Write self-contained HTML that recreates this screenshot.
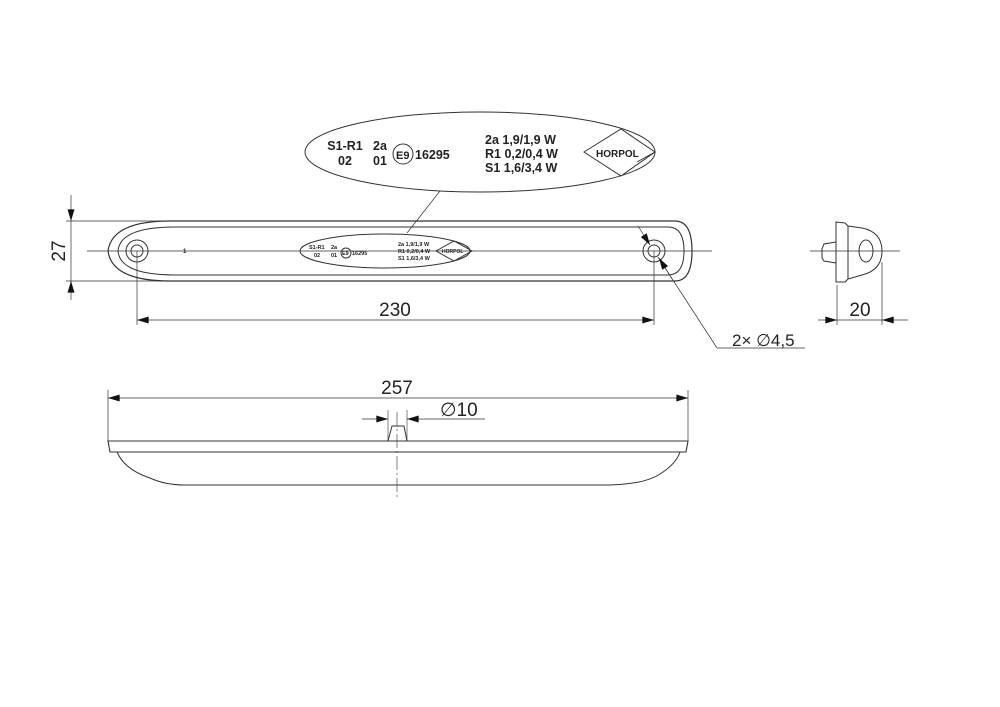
<!DOCTYPE html>
<html><head><meta charset="utf-8"><style>
html,body{margin:0;padding:0;background:#fff;}
svg{display:block;}
text{font-family:"Liberation Sans",sans-serif;fill:#222;}
</style></head><body>
<svg width="1000" height="707" viewBox="0 0 1000 707" xmlns="http://www.w3.org/2000/svg">
<defs>
<marker id="a" viewBox="0 0 10 6" refX="10" refY="3" markerWidth="16" markerHeight="7" markerUnits="userSpaceOnUse" orient="auto"><path d="M0,0L10,3L0,6z" fill="#111"/></marker>
</defs>
<g stroke="#333" stroke-width="1" fill="none">
<path d="M170,221 L675,221 Q692,221 692,251 Q692,281 675,281 L170,281 Q112,281 108,251 Q112,221 170,221 Z" stroke-width="1.2"/>
<path d="M175,227 L668,227 Q684,227 684,251 Q684,275 668,275 L175,275 Q120,275 118,251 Q120,227 175,227 Z"/>
<circle cx="137" cy="251" r="11"/><circle cx="137" cy="251" r="6"/>
<circle cx="654" cy="251" r="11"/><circle cx="654" cy="251" r="6"/>
<line x1="87" y1="251" x2="712" y2="251" stroke-width="0.7"/>
<ellipse cx="385" cy="251" rx="85" ry="17"/>
<ellipse cx="480" cy="152" rx="175" ry="40"/>
<line x1="440" y1="191" x2="407" y2="233" stroke-width="0.7"/>
<line x1="66" y1="221" x2="170" y2="221" stroke-width="0.7"/>
<line x1="66" y1="281" x2="170" y2="281" stroke-width="0.7"/>
<line x1="71" y1="195" x2="71" y2="221" marker-end="url(#a)" stroke-width="0.7"/>
<line x1="71" y1="300" x2="71" y2="281" marker-end="url(#a)" stroke-width="0.7"/>
<line x1="71" y1="221" x2="71" y2="281" stroke-width="0.7"/>
<line x1="137" y1="251" x2="137" y2="325" stroke-width="0.7"/>
<line x1="654" y1="251" x2="654" y2="325" stroke-width="0.7"/>
<line x1="395" y1="320" x2="137" y2="320" marker-end="url(#a)" stroke-width="0.7"/>
<line x1="395" y1="320" x2="654" y2="320" marker-end="url(#a)" stroke-width="0.7"/>
<line x1="638" y1="226" x2="650" y2="245" marker-end="url(#a)" stroke-width="0.7"/>
<polyline points="658,257 717,348 805,348" stroke-width="0.7"/>
<line x1="672" y1="279" x2="659" y2="258" marker-end="url(#a)" stroke-width="0.7"/>
<line x1="810" y1="251" x2="900" y2="251" stroke-width="0.7"/>
<path d="M836,222 L845,223 L848,226 L848,279 L845,282 L836,282 Z"/>
<path d="M836,242 L824,244 L822,249 L822,258 L824,261 L836,263"/>
<path d="M848,226 L862,228 Q882,232 882,251 Q882,270 862,275 L848,279"/>
<ellipse cx="866" cy="251" rx="7" ry="11"/>
<line x1="837" y1="285" x2="837" y2="325" stroke-width="0.7"/>
<line x1="882" y1="262" x2="882" y2="325" stroke-width="0.7"/>
<line x1="818" y1="320" x2="837" y2="320" marker-end="url(#a)" stroke-width="0.7"/>
<line x1="908" y1="320" x2="882" y2="320" marker-end="url(#a)" stroke-width="0.7"/>
<line x1="837" y1="320" x2="882" y2="320" stroke-width="0.7"/>
<line x1="108" y1="390" x2="108" y2="442" stroke-width="0.7"/>
<line x1="688" y1="390" x2="688" y2="442" stroke-width="0.7"/>
<line x1="397" y1="398" x2="108" y2="398" marker-end="url(#a)" stroke-width="0.7"/>
<line x1="397" y1="398" x2="688" y2="398" marker-end="url(#a)" stroke-width="0.7"/>
<path d="M108,441 L688,441 L686,452 L110,452 Z" stroke-width="1.1"/>
<path d="M117,452 Q125,470 150,478 Q165,485 185,485 L610,485 Q645,484 660,474 Q676,464 680,452"/>
<path d="M388,441 L392,426 L404,426 L407,441"/>
<line x1="388" y1="410" x2="388" y2="441" stroke-width="0.6"/>
<line x1="407" y1="410" x2="407" y2="441" stroke-width="0.6"/>
<line x1="362" y1="419" x2="388" y2="419" marker-end="url(#a)" stroke-width="0.7"/>
<line x1="430" y1="419" x2="407" y2="419" marker-end="url(#a)" stroke-width="0.7"/>
<line x1="430" y1="419" x2="485" y2="419" stroke-width="0.7"/>
<line x1="397" y1="412" x2="397" y2="500" stroke-width="0.6" stroke-dasharray="14,3,2,3"/>
<circle cx="403" cy="154" r="10"/>
<polygon points="584,152 621,129 655,152 621,176"/>
<line x1="637" y1="162" x2="655" y2="152"/>
<circle cx="346" cy="253" r="5"/>
<polygon points="436,251 454,241 472,251 454,261"/>
</g>
<g font-size="19">
<text x="60" y="251" text-anchor="middle" transform="rotate(-90 60 251)" dominant-baseline="middle">27</text>
<text x="395" y="316" text-anchor="middle">230</text>
<text x="860" y="316" text-anchor="middle">20</text>
<text x="397" y="394" text-anchor="middle">257</text>
<text x="440" y="416">∅10</text>
<text x="732" y="346" font-size="17">2× ∅4,5</text>
</g>
<g font-size="12.5" font-weight="bold" fill="#333">
<text x="345" y="150" text-anchor="middle">S1-R1</text>
<text x="345" y="165" text-anchor="middle">02</text>
<text x="380" y="150" text-anchor="middle">2a</text>
<text x="380" y="165" text-anchor="middle">01</text>
<text x="396" y="159" font-size="11">E9</text>
<text x="415" y="159">16295</text>
<text x="485" y="144">2a  1,9/1,9 W</text>
<text x="485" y="158">R1  0,2/0,4 W</text>
<text x="485" y="172">S1  1,6/3,4 W</text>
<text x="596" y="157" font-size="10">HORPOL</text>
</g>
<g font-size="5.5" font-weight="bold">
<text x="309" y="249">S1-R1</text><text x="314" y="257">02</text>
<text x="331" y="249">2a</text><text x="331" y="257">01</text>
<text x="342" y="255">E9</text><text x="352" y="255">16295</text>
<text x="398" y="246">2a 1,9/1,9 W</text>
<text x="398" y="253">R1 0,2/0,4 W</text>
<text x="398" y="260">S1 1,6/3,4 W</text>
<text x="442" y="253" font-size="5">HORPOL</text>
<text x="183" y="253" font-size="6">1</text>
</g>
</svg>
</body></html>
